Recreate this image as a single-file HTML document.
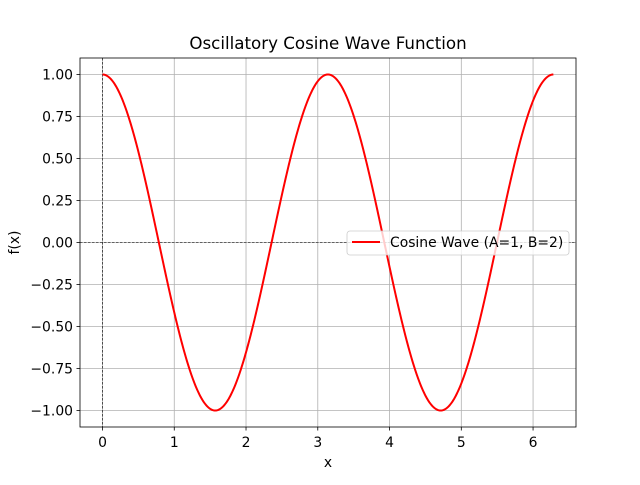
<!DOCTYPE html>
<html><head><meta charset="utf-8"><style>
body{margin:0;background:#fff}
svg text{font-family:"DejaVu Sans","Liberation Sans",sans-serif;fill:#000}
</style></head><body>
<svg id="s" width="640" height="480" xmlns="http://www.w3.org/2000/svg">
<rect width="640" height="480" fill="#fff"/>
<g id="grid" stroke="#b0b0b0" stroke-width="0.8"></g>
<line x1="80" y1="242.5" x2="576" y2="242.5" stroke="#000" stroke-width="0.6" stroke-dasharray="2.5,1.5"/>
<line x1="102.5" y1="58" x2="102.5" y2="427" stroke="#000" stroke-width="0.6" stroke-dasharray="2.5,1.5"/>
<path id="curve" fill="none" stroke="#ff0000" stroke-width="2"/>
<rect x="80" y="58" width="496" height="369" fill="none" stroke="#000" stroke-width="0.8"/>
<g id="ticks" stroke="#000" stroke-width="0.8"></g>
<g id="labels" font-size="13.9"></g>
<text x="328" y="49" font-size="16.7" text-anchor="middle">Oscillatory Cosine Wave Function</text>
<text x="328" y="467" font-size="13.9" text-anchor="middle">x</text>
<text transform="translate(19,242.5) rotate(-90)" font-size="13.9" text-anchor="middle">f(x)</text>
<rect x="347" y="231" width="222" height="24" rx="3" fill="#fff" fill-opacity="0.8" stroke="#cccccc" stroke-width="0.8"/>
<line x1="352" y1="242" x2="380" y2="242" stroke="#ff0000" stroke-width="2"/>
<text x="390" y="247" font-size="13.9">Cosine Wave (A=1, B=2)</text>
</svg>
<script>
var X=function(v){return 102.5+71.76*v},Y=function(v){return 242.5-168*v};
var g=document.getElementById('grid'),t=document.getElementById('ticks'),l=document.getElementById('labels');
var ns='http://www.w3.org/2000/svg';
function mk(p,tag,a,txt){var e=document.createElementNS(ns,tag);for(var k in a)e.setAttribute(k,a[k]);if(txt!==undefined)e.textContent=txt;p.appendChild(e);}
for(var i=0;i<=6;i++){var x=X(i);mk(g,'line',{x1:x,y1:58,x2:x,y2:427});mk(t,'line',{x1:x,y1:427,x2:x,y2:430.5});mk(l,'text',{x:x,y:447,'text-anchor':'middle'},String(i));}
for(var j=-4;j<=4;j++){var v=j*0.25,y=Y(v);mk(g,'line',{x1:80,y1:y,x2:576,y2:y});mk(t,'line',{x1:76.5,y1:y,x2:80,y2:y});mk(l,'text',{x:73,y:y+5,'text-anchor':'end'},(v<0?'\u2212':'')+Math.abs(v).toFixed(2));}
var d='';for(var k=0;k<=600;k++){var xv=2*Math.PI*k/600;d+=(k?'L':'M')+X(xv).toFixed(2)+','+Y(Math.cos(2*xv)).toFixed(2);}
document.getElementById('curve').setAttribute('d',d);
</script>
</body></html>
